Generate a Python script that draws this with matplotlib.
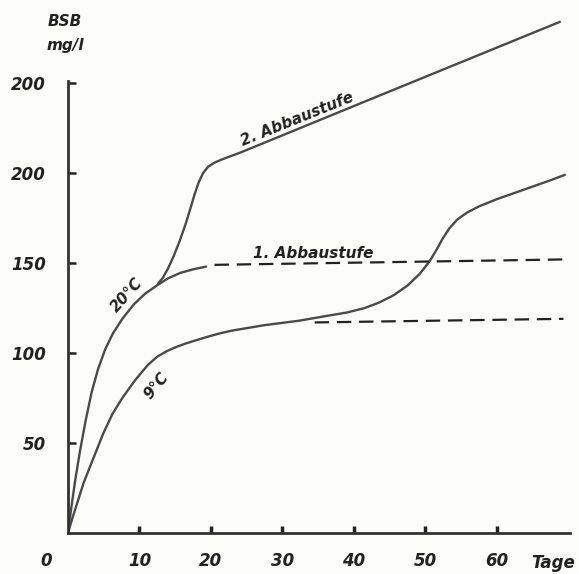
import numpy as np
import matplotlib.pyplot as plt

# BSB curves (x in Tage, y in mg/l)
t20 = [0, 0.5, 1, 1.7, 2.5, 3.3, 4.2, 5.2, 6.3, 7.6, 9.2, 10.8, 12.6, 14, 15.7, 17.5, 19.3]
bsb20 = [0, 15, 29, 46, 63, 78, 91, 102, 111, 119, 127, 133, 138, 141.5, 144.5, 146.5, 148]

t20_stage2 = [12.6, 13.3, 14, 14.8, 15.6, 16.4, 17.1, 17.7, 18.3, 18.9, 19.6, 20.5, 21.5, 22.7, 24, 46, 68.8]
bsb20_stage2 = [138.5, 142, 147, 154, 162, 171, 180, 188, 195, 200, 203.5, 205.8, 207.5, 209.3, 211.2, 247, 284]

t9 = [0, 0.6, 1.4, 2.2, 3.1, 4.0, 4.9, 6.2, 7.6, 9.4, 11.2, 12.5, 13.8, 15.1, 16.4, 18, 19.5, 21.3,
      23, 27.5, 32.4, 36, 39, 41.5, 43.5, 45.5, 47.5, 49.2, 50.5, 51.5, 52.4, 53.3, 54.4, 55.8,
      57.5, 60, 62.5, 65, 67.5, 69.5]
bsb9 = [0, 8, 18, 28, 37, 46, 55, 66, 75, 85, 93.5, 98, 101, 103.3, 105.2, 107.2, 109, 111,
        112.5, 115.5, 118, 120.5, 122.5, 125, 128, 132, 137.5, 144, 150.5, 157, 163.5, 169, 174, 178,
        181.5, 185.5, 189, 192.5, 196, 199]

# plateaus of the 1. Abbaustufe (dashed)
plateau20_t = [20.5, 69.3]
plateau20_y = [149, 152]
plateau9_t = [34.5, 69.3]
plateau9_y = [117, 119]

yticks = [50, 100, 150, 200, 250]
ytick_labels = ['50', '100', '150', '200', '200']
xticks = [10, 20, 30, 40, 50, 60]

bg = '#fcfcf8'
ink = '#222222'
curve = '#4a4a4a'
fnt = dict(family='DejaVu Sans', weight='bold', style='italic')

fig = plt.figure(figsize=(5.79, 5.74), dpi=100, facecolor=bg)
ax = fig.add_axes([0.1174, 0.0714, 0.8705, 0.925], facecolor=bg)

ax.plot(t20, bsb20, color=curve, lw=1.7, solid_capstyle='round', solid_joinstyle='round')
ax.plot(t20_stage2, bsb20_stage2, color=curve, lw=1.7, solid_capstyle='round', solid_joinstyle='round')
ax.plot(t9, bsb9, color=curve, lw=1.7, solid_capstyle='round', solid_joinstyle='round')
ax.plot(plateau20_t, plateau20_y, color=ink, lw=1.6, dashes=(6.5, 3.5))
ax.plot(plateau9_t, plateau9_y, color=ink, lw=1.6, dashes=(6.5, 3.5))

ax.set_xlim(0, 70.5)
ax.set_ylim(0, 295)
for s in ['top', 'right']:
    ax.spines[s].set_visible(False)
ax.spines['left'].set_bounds(0, 251)
ax.spines['bottom'].set_bounds(0, 70.2)
for s in ['left', 'bottom']:
    ax.spines[s].set_linewidth(2.0)
    ax.spines[s].set_color('#333333')

ax.set_yticks(yticks)
ax.set_yticklabels(ytick_labels, fontsize=12, **fnt)
ax.set_xticks(xticks)
ax.set_xticklabels([str(v) for v in xticks], fontsize=12, **fnt)
ax.tick_params(axis='y', direction='in', length=6, width=1.8, pad=16, colors=ink)
ax.tick_params(axis='x', direction='in', length=5, width=2.5, pad=14, colors=ink)

ax.text(-3.1, -15.5, '0', fontsize=12, ha='center', va='center', color=ink, clip_on=False, **fnt)
ax.text(67.8, -16.5, 'Tage', fontsize=12, ha='center', va='center', color=ink, clip_on=False, **fnt)
ax.text(-0.4, 284, 'BSB', fontsize=11, ha='center', va='center', color=ink, clip_on=False, **fnt)
ax.text(-0.4, 271, 'mg/l', fontsize=11, ha='center', va='center', color=ink, clip_on=False, **fnt)

ax.text(32.0, 230, '2. Abbaustufe', fontsize=11, rotation=22, ha='center', va='center',
        rotation_mode='anchor', color=ink, **fnt)
ax.text(34.3, 155.5, '1. Abbaustufe', fontsize=11, ha='center', va='center', color=ink, **fnt)
ax.text(8.3, 132, '20°C', fontsize=11, rotation=48, ha='center', va='center',
        rotation_mode='anchor', color=ink, **fnt)
ax.text(12.4, 82, '9°C', fontsize=11, rotation=50, ha='center', va='center',
        rotation_mode='anchor', color=ink, **fnt)

fig.savefig('out.png', dpi=100, facecolor=bg)
